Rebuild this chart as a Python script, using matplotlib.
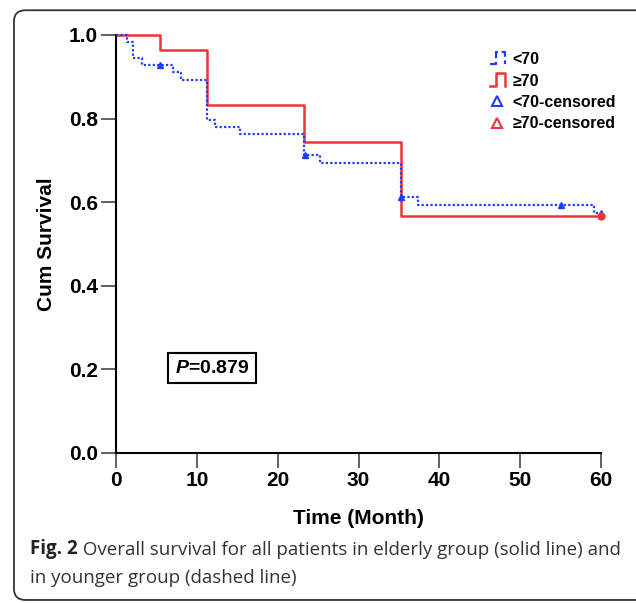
import numpy as np
import matplotlib
matplotlib.use("Agg")
import matplotlib.pyplot as plt
from matplotlib.lines import Line2D
from matplotlib.patches import FancyBboxPatch
from matplotlib.legend_handler import HandlerBase

plt.rcParams['font.family'] = ['Liberation Sans', 'DejaVu Sans']
plt.rcParams['mathtext.fontset'] = 'custom'
plt.rcParams['mathtext.it'] = 'Liberation Sans:italic:bold'

# survival curves (month, cum survival)
young_t = [0, 1.3, 2.1, 3.2, 7.1, 8.1, 11.2, 12.2, 15.3, 23.3, 25.2, 35.3, 37.4, 59.1, 60]
young_s = [1.0, 0.982, 0.946, 0.929, 0.911, 0.893, 0.797, 0.779, 0.762, 0.713, 0.693, 0.612, 0.593, 0.573, 0.573]
young_cens_t = [5.4, 23.4, 35.3, 55.0, 60]
young_cens_s = [0.929, 0.713, 0.612, 0.593, 0.573]

old_t = [0, 5.4, 11.3, 23.3, 35.3, 60]
old_s = [1.0, 0.963, 0.833, 0.745, 0.568, 0.568]
old_cens_t = [60]
old_cens_s = [0.568]

x_ticks = [0, 10, 20, 30, 40, 50, 60]
y_ticks = [0.0, 0.2, 0.4, 0.6, 0.8, 1.0]

blue = '#1f3bff'
red = '#f0323a'


class StepHandler(HandlerBase):
    # little step glyph like the SPSS legend
    def create_artists(self, legend, orig_handle, xdescent, ydescent,
                       width, height, fontsize, trans):
        xs = np.array([0, 0.4, 0.4, 1, 1]) * width - xdescent
        ys = np.array([0, 0, 1, 1, 0]) * height * 1.1 - ydescent
        ln = Line2D(xs, ys, color=orig_handle.get_color(),
                    linestyle=orig_handle.get_linestyle(),
                    linewidth=orig_handle.get_linewidth())
        ln.set_transform(trans)
        return [ln]


fig = plt.figure(figsize=(6.36, 6.03), dpi=100)
ax = fig.add_axes([0.1824, 0.2488, 0.7626, 0.6932])

ax.step(young_t, young_s, where='post', color=blue, lw=1.6,
        linestyle=(0, (1, 1)), clip_on=False, zorder=3)
ax.step(old_t, old_s, where='post', color=red, lw=1.8, clip_on=False, zorder=2)
ax.plot(young_cens_t, young_cens_s, '^', color=blue, ms=5, clip_on=False, zorder=4)
ax.plot(old_cens_t, old_cens_s, 'o', color=red, ms=5, clip_on=False, zorder=4)

ax.set_xlim(0, 60)
ax.set_ylim(0, 1)
ax.set_xticks(x_ticks)
ax.set_yticks(y_ticks)
ax.set_yticklabels(['%.1f' % v for v in y_ticks])
for s in ['top', 'right']:
    ax.spines[s].set_visible(False)
for s in ['left', 'bottom']:
    ax.spines[s].set_linewidth(1.5)
ax.tick_params(length=11, width=1.3, color='#555555', labelsize=15, pad=2)
for lab in ax.get_xticklabels() + ax.get_yticklabels():
    lab.set_fontweight('bold')

ax.set_xlabel('Time (Month)', fontsize=15, fontweight='bold', labelpad=14)
ax.set_ylabel('Cum Survival', fontsize=15, fontweight='bold', labelpad=9)

ax.text(0.198, 0.203, r'$P$=0.879', transform=ax.transAxes, ha='center',
        va='center', fontsize=14, fontweight='bold',
        bbox=dict(boxstyle='square,pad=0.35', fc='white', ec='black', lw=1.5))

h1 = Line2D([], [], color=blue, lw=1.6, linestyle=(0, (1, 1)))
h2 = Line2D([], [], color=red, lw=1.8)
h3 = Line2D([], [], color=blue, marker='^', mfc='none', mew=1.5, ms=7, ls='none')
h4 = Line2D([], [], color=red, marker='^', mfc='none', mew=1.5, ms=7, ls='none')
ax.legend([h1, h2, h3, h4], ['<70', '≥70', '<70-censored', '≥70-censored'],
          handler_map={h1: StepHandler(), h2: StepHandler()},
          loc='upper left', bbox_to_anchor=(0.755, 0.978), frameon=False,
          prop={'size': 11.5, 'weight': 'bold'}, handlelength=0.9,
          handletextpad=0.5, labelspacing=0.4, borderpad=0)

# rounded figure frame
frame = FancyBboxPatch((0.022, 0.005), 1.0, 0.978,
                       boxstyle='round,pad=0,rounding_size=0.018',
                       transform=fig.transFigure, fc='none', ec='#333333',
                       lw=1.3, clip_on=False)
fig.patches.append(frame)

t1 = fig.text(0.047, 0.082, 'Fig. 2', fontsize=13.5, fontweight='bold',
              family='Open Sans', color='#222222', va='baseline')
ax.annotate(' Overall survival for all patients in elderly group (solid line) and',
            xy=(1, 0), xycoords=t1, va='bottom', fontsize=13.5,
            family='Open Sans', color='#333333')
fig.text(0.047, 0.033, 'in younger group (dashed line)', fontsize=13.5,
         family='Open Sans', color='#333333', va='baseline')

fig.savefig('out.png', dpi=100)
